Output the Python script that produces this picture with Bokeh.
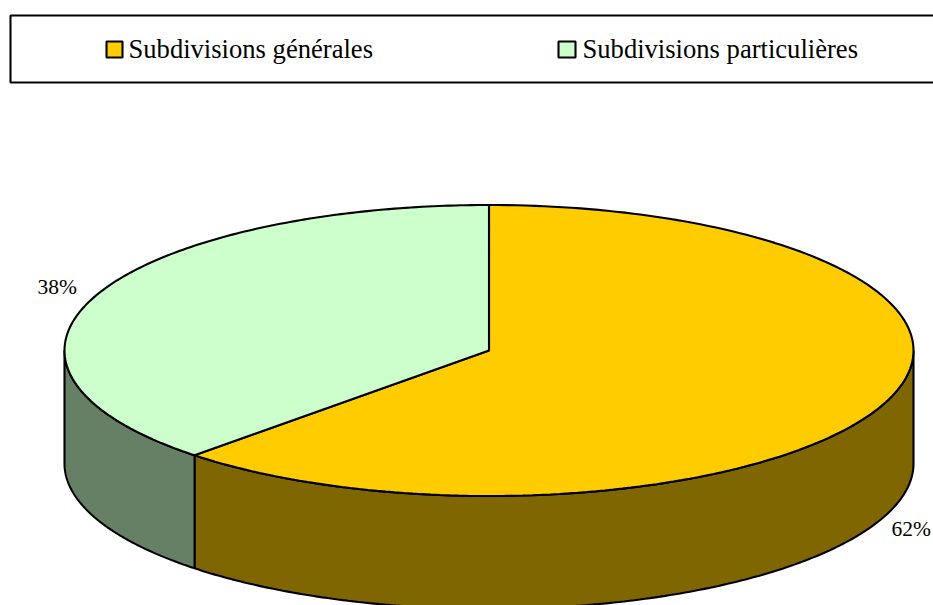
import math
from bokeh.plotting import figure
from bokeh.models import Range1d
from bokeh.core.properties import value
from bokeh.embed import file_html
from bokeh.resources import INLINE

categories = ["Subdivisions générales", "Subdivisions particulières"]
shares = [62.2, 37.8]
labels = ["62%", "38%"]
top_colors = ["#FFCC00", "#CCFFCC"]
side_colors = ["#806600", "#668066"]

CX, CY, RX, RY, DEPTH = 488.5, 350.0, 424.5, 145.5, 113.0
FONT = "Liberation Serif"
LW = 2.1


def rim(t_from, t_to, dy=0.0, n=180):
    pts = [t_from + (t_to - t_from) * i / n for i in range(n + 1)]
    xs = [CX + RX * math.sin(t) for t in pts]
    ys = [CY + dy - RY * math.cos(t) for t in pts]
    return xs, ys


p = figure(width=933, height=605, output_backend="svg", toolbar_location=None,
           x_range=Range1d(0, 933), y_range=Range1d(605, 0),
           min_border=0, outline_line_color=None, background_fill_color="white")
p.axis.visible = False
p.grid.visible = False

total = sum(shares)
bounds = [0.0]
for s in shares:
    bounds.append(bounds[-1] + 2 * math.pi * s / total)

for i, color in enumerate(side_colors):
    a = max(bounds[i], math.pi / 2)
    b = min(bounds[i + 1], 3 * math.pi / 2)
    if b <= a:
        continue
    x1, y1 = rim(a, b)
    x2, y2 = rim(b, a, DEPTH)
    p.patch(x1 + x2, y1 + y2, fill_color=color, line_color="black", line_width=LW)

for i, color in enumerate(top_colors):
    x1, y1 = rim(bounds[i], bounds[i + 1])
    p.patch([CX] + x1, [CY] + y1, fill_color=color, line_color="black", line_width=LW)

p.text([891], [528], text=[labels[0]], text_font=value(FONT), text_font_size="21.5px",
       text_baseline="middle", text_color="black")
p.text([37], [286], text=[labels[1]], text_font=value(FONT), text_font_size="21.5px",
       text_baseline="middle", text_color="black")

p.quad(left=[10], right=[940], top=[15], bottom=[82], fill_color="white",
       line_color="black", line_width=LW)
p.quad(left=[106, 558], right=[122, 575], top=[41, 41], bottom=[57, 57],
       fill_color=top_colors, line_color="black", line_width=LW)
p.text([128, 582], [48.5, 48.5], text=categories, text_font=value(FONT),
       text_font_size="26.6px", text_baseline="middle", text_color="black")

html = file_html(p, INLINE)
# drop the page margin so that the 933x605 figure fits the window exactly
html = html.replace("<head>", "<head><style>html,body{margin:0;padding:0}</style>", 1)
open("out.html", "w").write(html)
